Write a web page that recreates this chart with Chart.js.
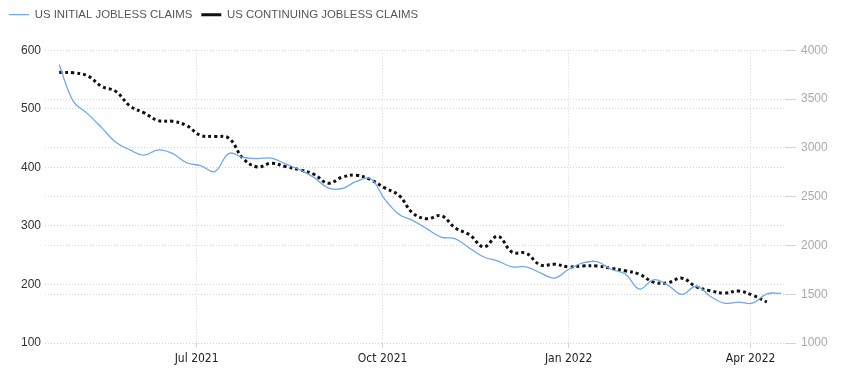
<!DOCTYPE html>
<html>
<head>
<meta charset="utf-8">
<script src="https://cdn.jsdelivr.net/npm/chart.js@4.4.1/dist/chart.umd.min.js"></script>
<style>
    html, body { margin: 0; padding: 0; background: #fff; }
    canvas { display: block; }
</style>
</head>
<body>
<canvas id="claimsChart" width="845" height="375"></canvas>
<script>
// weekly observations (week ending Saturday)
const weeks = [
    "2021-04-24", "2021-05-01", "2021-05-08", "2021-05-15", "2021-05-22", "2021-05-29",
    "2021-06-05", "2021-06-12", "2021-06-19", "2021-06-26", "2021-07-03", "2021-07-10",
    "2021-07-17", "2021-07-24", "2021-07-31", "2021-08-07", "2021-08-14", "2021-08-21",
    "2021-08-28", "2021-09-04", "2021-09-11", "2021-09-18", "2021-09-25", "2021-10-02",
    "2021-10-09", "2021-10-16", "2021-10-23", "2021-10-30", "2021-11-06", "2021-11-13",
    "2021-11-20", "2021-11-27", "2021-12-04", "2021-12-11", "2021-12-18", "2021-12-25",
    "2022-01-01", "2022-01-08", "2022-01-15", "2022-01-22", "2022-01-29", "2022-02-05",
    "2022-02-12", "2022-02-19", "2022-02-26", "2022-03-05", "2022-03-12", "2022-03-19",
    "2022-03-26", "2022-04-02", "2022-04-09", "2022-04-16"
];

// thousands
const initialClaims = [
    576, 513, 492, 468, 443, 430, 421, 430, 424, 408, 403, 393,
    424, 417, 415, 416, 406, 396, 383, 365, 364, 376, 381, 346,
    320, 309, 295, 281, 278, 262, 247, 240, 230, 230, 220, 211,
    226, 237, 239, 226, 218, 192, 208, 199, 183, 197, 180, 168,
    170, 168, 184, 185
];

const continuingClaims = [
    3775, 3770, 3740, 3631, 3580, 3430, 3360, 3280, 3273, 3230, 3128, 3118,
    3099, 2890, 2805, 2843, 2808, 2775, 2730, 2638, 2700, 2720, 2675, 2590,
    2515, 2330, 2275, 2305, 2177, 2110, 1985, 2095, 1932, 1920, 1800, 1808,
    1780, 1790, 1790, 1765, 1740, 1705, 1624, 1618, 1665, 1578, 1535, 1512,
    1532, 1490, 1420, null
];

const xTickDates = ["2021-07-01", "2021-10-01", "2022-01-01", "2022-04-01"];
const xTickLabels = ["Jul 2021", "Oct 2021", "Jan 2022", "Apr 2022"];
const leftTicks = [100, 200, 300, 400, 500, 600];
const rightTicks = [1000, 1500, 2000, 2500, 3000, 3500, 4000];

const toTime = d => Date.parse(d + "T00:00:00Z");
const toPoints = values => weeks.map((w, i) => ({ x: toTime(w), y: values[i] }));

const legendMargin = {
    id: "legendMargin",
    beforeInit(chart) {
        const fit = chart.legend.fit;
        chart.legend.fit = function () {
            fit.bind(chart.legend)();
            this.height += 20;
        };
    }
};

const gridDots = { color: "#d4d4d4", lineWidth: 1 };

const ctx = document.getElementById("claimsChart").getContext("2d");
new Chart(ctx, {
    type: "line",
    data: {
        datasets: [{
            label: "US INITIAL JOBLESS CLAIMS",
            data: toPoints(initialClaims),
            yAxisID: "y",
            borderColor: "#72a7e8",
            backgroundColor: "#72a7e8",
            borderWidth: 1.3,
            pointRadius: 0,
            tension: 0.4
        }, {
            label: "US CONTINUING JOBLESS CLAIMS",
            data: toPoints(continuingClaims),
            yAxisID: "y1",
            borderColor: "#111111",
            backgroundColor: "#111111",
            borderWidth: 3,
            borderDash: [3, 3],
            pointRadius: 0,
            tension: 0.4
        }]
    },
    options: {
        responsive: false,
        animation: false,
        maintainAspectRatio: false,
        layout: { padding: { left: 0, right: 0, top: 0, bottom: 0 } },
        plugins: {
            legend: {
                position: "top",
                align: "start",
                labels: {
                    usePointStyle: true,
                    pointStyle: "line",
                    pointStyleWidth: 20,
                    boxWidth: 20,
                    boxHeight: 8,
                    padding: 9,
                    color: "#555",
                    font: { family: "'Liberation Sans', Arial, sans-serif", size: 11.4 }
                }
            },
            tooltip: { enabled: false }
        },
        scales: {
            x: {
                type: "linear",
                min: toTime("2021-04-17"),
                max: toTime("2022-04-18"),
                afterBuildTicks(scale) {
                    scale.ticks = xTickDates.map(d => ({ value: toTime(d) }));
                },
                afterFit(scale) { scale.height = 32; },
                ticks: {
                    autoSkip: false,
                    maxRotation: 0,
                    padding: 4,
                    color: "#222",
                    font: { family: "'DejaVu Sans Condensed', 'Liberation Sans Narrow', sans-serif", size: 12 },
                    callback: (value, i) => xTickLabels[i]
                },
                grid: { ...gridDots, tickLength: 5 },
                border: { display: false, dash: [1, 2] }
            },
            y: {
                position: "left",
                min: 100,
                max: 600,
                afterBuildTicks(scale) {
                    scale.ticks = leftTicks.map(v => ({ value: v }));
                },
                afterFit(scale) { scale.width = 45; },
                ticks: {
                    autoSkip: false,
                    padding: 4,
                    color: "#333",
                    font: { family: "'Liberation Sans', Arial, sans-serif", size: 12 },
                    callback: value => String(value)
                },
                grid: { ...gridDots, drawTicks: false },
                border: { display: false, dash: [1, 2] }
            },
            y1: {
                position: "right",
                min: 1000,
                max: 4000,
                afterBuildTicks(scale) {
                    scale.ticks = rightTicks.map(v => ({ value: v }));
                },
                afterFit(scale) { scale.width = 60; },
                ticks: {
                    autoSkip: false,
                    padding: 5,
                    color: "#aaa",
                    font: { family: "'Liberation Sans', Arial, sans-serif", size: 12 },
                    callback: value => String(value)
                },
                grid: { ...gridDots, tickLength: 11 },
                border: { display: false, dash: [1, 2] }
            }
        }
    },
    plugins: [legendMargin]
});
</script>
</body>
</html>
